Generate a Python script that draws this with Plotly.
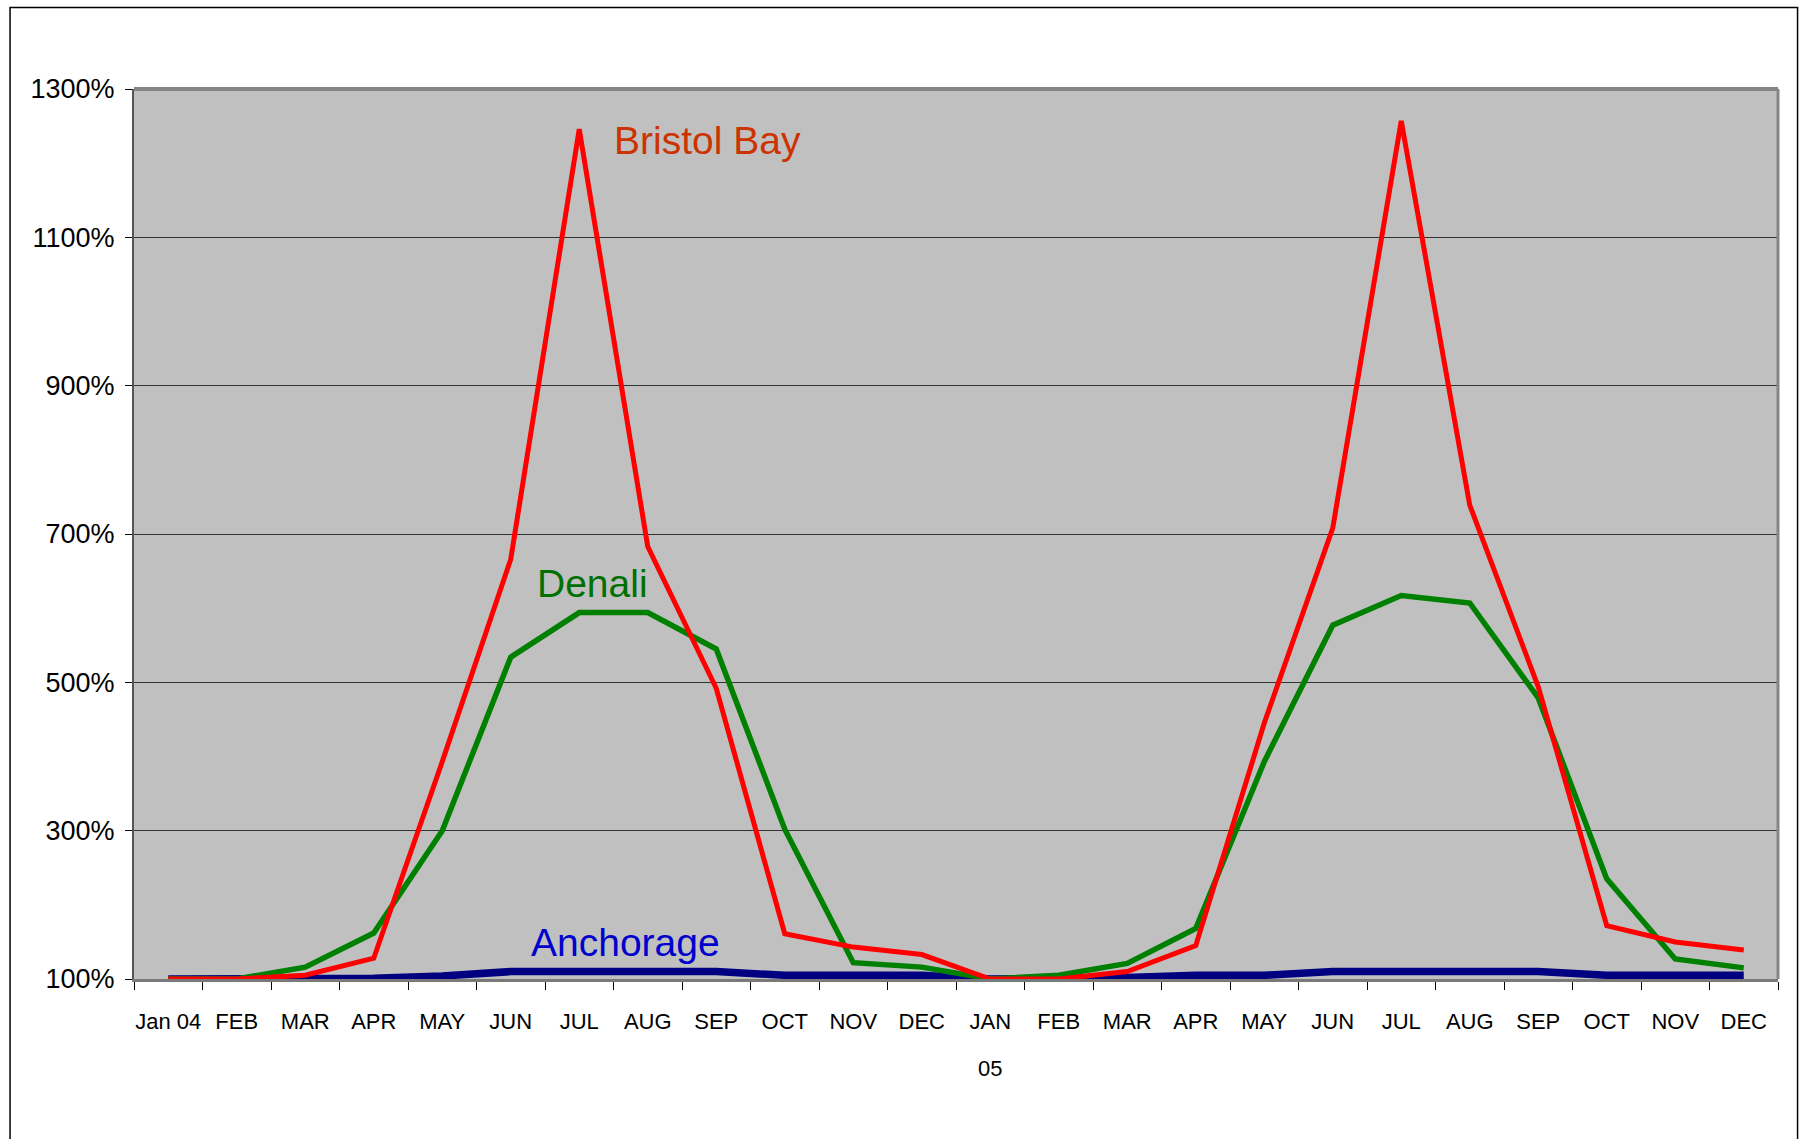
import plotly.graph_objects as go

# Monthly categories (two seasons) and their axis labels
periods = ["2004-01", "2004-02", "2004-03", "2004-04", "2004-05", "2004-06",
           "2004-07", "2004-08", "2004-09", "2004-10", "2004-11", "2004-12",
           "2005-01", "2005-02", "2005-03", "2005-04", "2005-05", "2005-06",
           "2005-07", "2005-08", "2005-09", "2005-10", "2005-11", "2005-12"]
month_labels = ["Jan 04", "FEB", "MAR", "APR", "MAY", "JUN", "JUL", "AUG", "SEP", "OCT", "NOV", "DEC",
                "JAN", "FEB", "MAR", "APR", "MAY", "JUN", "JUL", "AUG", "SEP", "OCT", "NOV", "DEC"]
year_label = "05"

# Activity relative to January (percent)
anchorage = [100, 100, 100, 101, 104, 110, 110, 110, 110, 105, 105, 105,
             100, 100, 102, 105, 105, 110, 110, 110, 110, 105, 105, 105]
denali = [100, 100, 116, 162, 300, 534, 594, 594, 545, 302, 122, 116,
          100, 105, 121, 168, 393, 577, 617, 607, 479, 235, 127, 115]
bristol_bay = [100, 100, 105, 128, 393, 666, 1246, 683, 492, 161, 143, 133,
               100, 100, 110, 145, 445, 708, 1257, 739, 494, 172, 150, 139]

y_ticks = [100, 300, 500, 700, 900, 1100, 1300]
y_tick_labels = [f"{v}%" for v in y_ticks]

sans = "Liberation Sans, Arial, sans-serif"

fig = go.Figure()
fig.add_trace(go.Scatter(x=periods, y=anchorage, mode="lines", name="Anchorage",
                         line=dict(color="#000080", width=7.5)))
fig.add_trace(go.Scatter(x=periods, y=denali, mode="lines", name="Denali",
                         line=dict(color="#008000", width=5.5)))
fig.add_trace(go.Scatter(x=periods, y=bristol_bay, mode="lines", name="Bristol Bay",
                         line=dict(color="#FF0000", width=5)))

# Series labels placed next to their lines
fig.add_annotation(x=7.87, y=1230, text="Bristol Bay", showarrow=False,
                   font=dict(family=sans, size=39, color="#CC3300"))
fig.add_annotation(x=6.2, y=633, text="Denali", showarrow=False,
                   font=dict(family=sans, size=39, color="#007000"))
fig.add_annotation(x=6.67, y=149, text="Anchorage", showarrow=False,
                   font=dict(family=sans, size=39, color="#0000CC"))
# Year marker under the second January
fig.add_annotation(x="2005-01", y=-0.101, yref="paper", yanchor="middle",
                   text=year_label, showarrow=False,
                   font=dict(family=sans, size=22, color="black"))

# Plot-area frame: heavy grey top and right edges
fig.add_shape(type="line", xref="paper", yref="paper", x0=0, x1=1, y0=1, y1=1,
              line=dict(color="#858585", width=4), layer="above")
fig.add_shape(type="line", xref="paper", yref="paper", x0=1, x1=1, y0=0, y1=1,
              line=dict(color="#858585", width=3), layer="above")
# Outer chart border
fig.add_shape(type="rect", xref="paper", yref="paper",
              x0=-0.0754, x1=1.0119, y0=-0.2, y1=1.0916,
              line=dict(color="black", width=1.5), fillcolor="rgba(0,0,0,0)")

fig.update_layout(
    width=1801, height=1139,
    margin=dict(l=134, r=23, t=89, b=160),
    paper_bgcolor="white",
    plot_bgcolor="#C0C0C0",
    showlegend=False,
    xaxis=dict(
        type="category",
        tickvals=periods, ticktext=month_labels,
        tickson="boundaries", tickangle=0,
        ticks="outside", ticklen=8, tickcolor="black", tickwidth=1.2,
        showgrid=False,
        showline=True, linecolor="#7a7a7a", linewidth=3,
        tickfont=dict(family=sans, size=22, color="black"),
        ticklabelstandoff=21,
        range=[-0.5, 23.5],
    ),
    yaxis=dict(
        range=[100, 1300],
        tickvals=y_ticks, ticktext=y_tick_labels,
        ticks="outside", ticklen=7, tickcolor="black", tickwidth=1.2,
        showgrid=True, gridcolor="#333333", gridwidth=1.2,
        zeroline=False,
        showline=True, linecolor="#555555", linewidth=2,
        tickfont=dict(family=sans, size=27, color="black"),
        ticklabelstandoff=5,
    ),
)

fig.write_html("out.html")
